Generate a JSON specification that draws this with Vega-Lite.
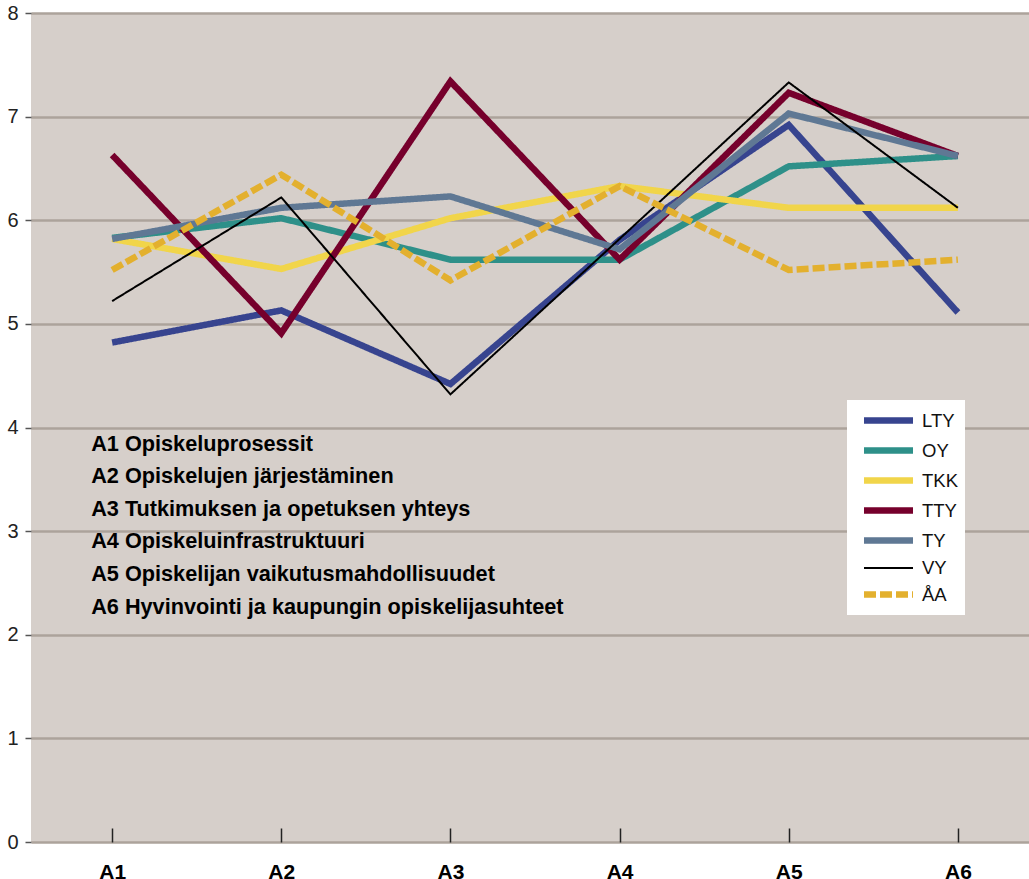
{
  "$schema": "https://vega.github.io/schema/vega-lite/v6.json",
  "width": 998,
  "height": 829,
  "autosize": {"type": "none"},
  "padding": {"left": 31, "top": 13, "right": 0, "bottom": 37},
  "background": "#ffffff",
  "config": {
    "view": {"fill": "#d6cfca", "stroke": null},
    "font": "Liberation Sans",
    "legend": {
      "title": null, "orient": "none", "legendX": 816, "legendY": 387,
      "fillColor": "#ffffff", "padding": 7, "symbolType": "M-2.45,0H2.45",
      "symbolSize": 400, "symbolOffset": 21, "rowPadding": 3, "labelOffset": 20,
      "labelFont": "Liberation Sans", "labelFontSize": 18.5, "labelColor": "#111111"
    }
  },
  "datasets": {
    "scores": [
      {"cat": "A1", "series": "LTY", "value": 4.82},
      {"cat": "A2", "series": "LTY", "value": 5.13},
      {"cat": "A3", "series": "LTY", "value": 4.42},
      {"cat": "A4", "series": "LTY", "value": 5.81},
      {"cat": "A5", "series": "LTY", "value": 6.92},
      {"cat": "A6", "series": "LTY", "value": 5.11},
      {"cat": "A1", "series": "OY", "value": 5.83},
      {"cat": "A2", "series": "OY", "value": 6.02},
      {"cat": "A3", "series": "OY", "value": 5.62},
      {"cat": "A4", "series": "OY", "value": 5.62},
      {"cat": "A5", "series": "OY", "value": 6.52},
      {"cat": "A6", "series": "OY", "value": 6.62},
      {"cat": "A1", "series": "TKK", "value": 5.82},
      {"cat": "A2", "series": "TKK", "value": 5.53},
      {"cat": "A3", "series": "TKK", "value": 6.02},
      {"cat": "A4", "series": "TKK", "value": 6.33},
      {"cat": "A5", "series": "TKK", "value": 6.12},
      {"cat": "A6", "series": "TKK", "value": 6.12},
      {"cat": "A1", "series": "TTY", "value": 6.63},
      {"cat": "A2", "series": "TTY", "value": 4.91},
      {"cat": "A3", "series": "TTY", "value": 7.34},
      {"cat": "A4", "series": "TTY", "value": 5.62},
      {"cat": "A5", "series": "TTY", "value": 7.23},
      {"cat": "A6", "series": "TTY", "value": 6.62},
      {"cat": "A1", "series": "TY", "value": 5.82},
      {"cat": "A2", "series": "TY", "value": 6.12},
      {"cat": "A3", "series": "TY", "value": 6.23},
      {"cat": "A4", "series": "TY", "value": 5.72},
      {"cat": "A5", "series": "TY", "value": 7.03},
      {"cat": "A6", "series": "TY", "value": 6.62},
      {"cat": "A1", "series": "VY", "value": 5.22},
      {"cat": "A2", "series": "VY", "value": 6.22},
      {"cat": "A3", "series": "VY", "value": 4.32},
      {"cat": "A4", "series": "VY", "value": 5.82},
      {"cat": "A5", "series": "VY", "value": 7.33},
      {"cat": "A6", "series": "VY", "value": 6.12},
      {"cat": "A1", "series": "ÅA", "value": 5.52},
      {"cat": "A2", "series": "ÅA", "value": 6.44},
      {"cat": "A3", "series": "ÅA", "value": 5.42},
      {"cat": "A4", "series": "ÅA", "value": 6.33},
      {"cat": "A5", "series": "ÅA", "value": 5.52},
      {"cat": "A6", "series": "ÅA", "value": 5.62}
    ],
    "notes": [
      {"cat": "A1", "y": 3.84, "text": "A1 Opiskeluprosessit"},
      {"cat": "A1", "y": 3.53, "text": "A2 Opiskelujen järjestäminen"},
      {"cat": "A1", "y": 3.21, "text": "A3 Tutkimuksen ja opetuksen yhteys"},
      {"cat": "A1", "y": 2.90, "text": "A4 Opiskeluinfrastruktuuri"},
      {"cat": "A1", "y": 2.59, "text": "A5 Opiskelijan vaikutusmahdollisuudet"},
      {"cat": "A1", "y": 2.27, "text": "A6 Hyvinvointi ja kaupungin opiskelijasuhteet"}
    ]
  },
  "layer": [
    {
      "data": {"name": "scores"},
      "mark": {"type": "line", "strokeCap": "butt", "strokeJoin": "miter"},
      "encoding": {
        "x": {
          "field": "cat", "type": "ordinal",
          "scale": {"type": "point", "padding": 0.45, "align": 0.533},
          "axis": {
            "title": null, "labelAngle": 0, "domain": false, "grid": false,
            "tickSize": -14, "tickColor": "#222222", "tickWidth": 1.5,
            "labelFont": "Liberation Sans", "labelFontWeight": "bold", "labelFontSize": 21,
            "labelColor": "#000000", "labelPadding": 33, "labelBaseline": "top"
          }
        },
        "y": {
          "field": "value", "type": "quantitative",
          "scale": {"domain": [0, 8], "nice": false, "zero": true},
          "axis": {
            "title": null, "values": [0, 1, 2, 3, 4, 5, 6, 7, 8], "format": "d", "domain": false,
            "grid": true, "gridColor": "#aca39b", "gridWidth": 2.5,
            "tickSize": 6, "tickColor": "#555555", "tickWidth": 1.5,
            "labelFont": "Liberation Sans", "labelFontSize": 20, "labelColor": "#222222",
            "labelPadding": 7
          }
        },
        "color": {
          "field": "series", "type": "nominal",
          "scale": {
            "domain": ["LTY", "OY", "TKK", "TTY", "TY", "VY", "ÅA"],
            "range": ["#37448f", "#2e9089", "#f1d54a", "#76002c", "#5f7894", "#000000", "#e3b02e"]
          }
        },
        "strokeWidth": {
          "field": "series", "type": "nominal",
          "scale": {
            "type": "ordinal",
            "domain": ["LTY", "OY", "TKK", "TTY", "TY", "VY", "ÅA"],
            "range": [6.5, 6.5, 6.5, 6.5, 6.5, 2, 6.5]
          }
        },
        "strokeDash": {
          "field": "series", "type": "nominal",
          "scale": {
            "domain": ["LTY", "OY", "TKK", "TTY", "TY", "VY", "ÅA"],
            "range": [[1, 0], [1, 0], [1, 0], [1, 0], [1, 0], [1, 0], [12, 4]]
          }
        }
      }
    },
    {
      "data": {"name": "notes"},
      "mark": {
        "type": "text", "align": "left", "baseline": "middle", "dx": -21,
        "font": "Liberation Sans", "fontWeight": "bold", "fontSize": 21.7, "color": "#000000"
      },
      "encoding": {
        "x": {"field": "cat", "type": "ordinal"},
        "y": {"field": "y", "type": "quantitative"},
        "text": {"field": "text"}
      }
    }
  ]
}
